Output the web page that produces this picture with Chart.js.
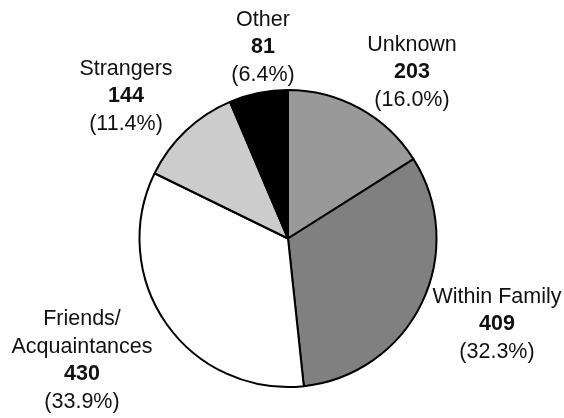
<!DOCTYPE html>
<html>
<head>
<meta charset="utf-8">
<script src="https://cdn.jsdelivr.net/npm/chart.js@4/dist/chart.umd.min.js"></script>
<style>
  html, body { margin: 0; padding: 0; background: #fff; }
  #wrap { width: 564px; height: 418px; }
</style>
</head>
<body>
<div id="wrap"><canvas id="pie"></canvas></div>
<script>
// data
const categories = ['Unknown', 'Within Family', 'Friends/\nAcquaintances', 'Strangers', 'Other'];
const counts = [203, 409, 430, 144, 81];
const colors = ['#999999', '#808080', '#ffffff', '#cccccc', '#000000'];

// where each label block sits, relative to the pie centre
const labelOffsets = [[124, -166], [209, 86], [-206, 122], [-162, -142], [-25, -191]];

const total = counts.reduce((a, b) => a + b, 0);

const outsideLabels = {
    id: 'outsideLabels',
    afterDatasetsDraw(chart) {
        const ctx = chart.ctx;
        const meta = chart.getDatasetMeta(0);
        const lineH = 27.5;
        ctx.save();
        ctx.textAlign = 'center';
        ctx.textBaseline = 'middle';
        ctx.fillStyle = '#111';
        meta.data.forEach((arc, i) => {
            const lines = categories[i].split('\n').map(t => ({ t, bold: false }));
            lines.push({ t: String(counts[i]), bold: true });
            lines.push({ t: '(' + (counts[i] / total * 100).toFixed(1) + '%)', bold: false });
            const cx = arc.x + labelOffsets[i][0];
            const cy = arc.y + labelOffsets[i][1];
            lines.forEach((l, j) => {
                ctx.font = (l.bold ? 'bold ' : '') + '21.5px "Liberation Sans", Arial, sans-serif';
                ctx.fillText(l.t, cx, cy + (j - (lines.length - 1) / 2) * lineH);
            });
        });
        ctx.restore();
    }
};

new Chart(document.getElementById('pie').getContext('2d'), {
    type: 'pie',
    data: {
        labels: categories,
        datasets: [
            {
                data: counts,
                backgroundColor: colors,
                borderColor: '#000',
                borderWidth: 2,
            },
        ],
    },
    options: {
        responsive: true,
        maintainAspectRatio: false,
        animation: false,
        radius: 148.5,
        layout: { padding: { left: 12, right: 0, top: 59, bottom: 0 } },
        plugins: {
            legend: { display: false },
            tooltip: { enabled: false },
        },
    },
    plugins: [outsideLabels],
});
</script>
</body>
</html>
